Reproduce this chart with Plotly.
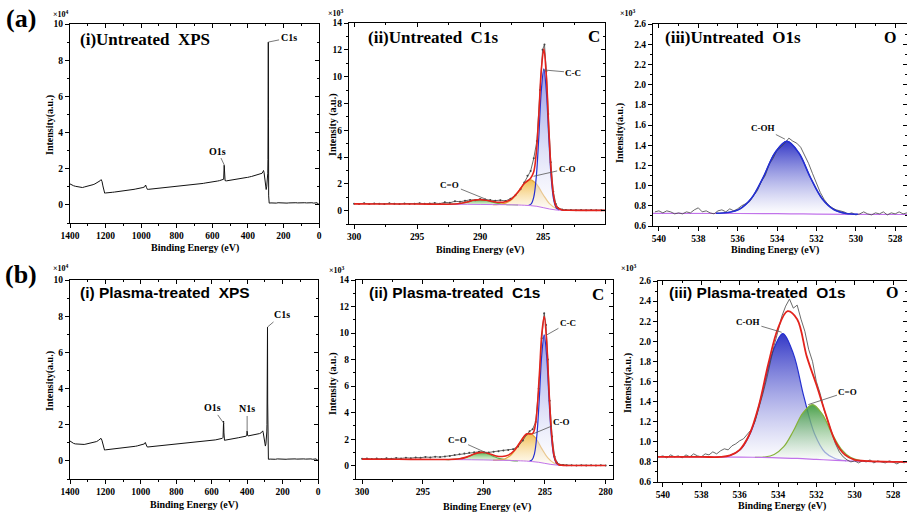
import plotly.graph_objects as go

W, H = 907, 517
SERIF = "Liberation Serif"
SANS = "Liberation Sans"

# ---------------- survey spectra (eV, counts x10^4) ----------------
survey_x = [1400, 1390, 1380, 1370, 1360, 1350, 1340, 1330, 1320, 1310,
            1300, 1290, 1280, 1270, 1260, 1250, 1240, 1230, 1225, 1220,
            1215, 1210, 1205, 1200, 1190, 1180, 1170, 1160, 1150, 1140,
            1130, 1120, 1110, 1100, 1090, 1080, 1070, 1060, 1050, 1040,
            1030, 1020, 1010, 1000, 990, 980, 975, 970, 965, 960,
            950, 940, 930, 920, 910, 900, 890, 880, 870, 860,
            850, 840, 830, 820, 810, 800, 790, 780, 770, 760,
            750, 740, 730, 720, 710, 700, 690, 680, 670, 660,
            650, 640, 630, 620, 610, 600, 590, 580, 570, 560,
            550, 540, 536, 533, 531, 528, 520, 510, 500, 490,
            480, 470, 460, 450, 440, 430, 420, 410, 405, 402,
            400, 398, 395, 390, 380, 370, 360, 350, 340, 330,
            320, 315, 312, 309, 306, 303, 300, 297, 294, 291,
            289, 288, 287, 286, 285, 284, 283, 282, 280, 270,
            260, 250, 240, 230, 220, 210, 200, 190, 180, 170,
            160, 150, 140, 130, 120, 110, 100, 90, 80, 70,
            60, 50, 40, 30, 20, 15, 10, 5, 0]
survey_untreated = [1.16, 1.10, 1.06, 1.03, 1.01, 0.99, 0.98, 0.96, 0.99, 1.01,
                    1.04, 1.07, 1.10, 1.12, 1.16, 1.21, 1.27, 1.34, 1.40, 1.30,
                    1.05, 0.80, 0.65, 0.66, 0.68, 0.67, 0.69, 0.70, 0.71, 0.72,
                    0.73, 0.74, 0.75, 0.76, 0.78, 0.79, 0.80, 0.82, 0.84, 0.86,
                    0.88, 0.89, 0.91, 0.93, 0.96, 1.00, 1.10, 0.97, 0.86, 0.86,
                    0.87, 0.88, 0.88, 0.89, 0.90, 0.91, 0.92, 0.93, 0.94, 0.96,
                    0.97, 0.97, 0.99, 1.00, 1.01, 1.02, 1.03, 1.04, 1.05, 1.06,
                    1.07, 1.08, 1.09, 1.10, 1.11, 1.12, 1.13, 1.15, 1.16, 1.18,
                    1.19, 1.21, 1.22, 1.24, 1.25, 1.27, 1.28, 1.30, 1.32, 1.34,
                    1.36, 1.38, 1.42, 2.20, 1.55, 1.34, 1.33, 1.35, 1.37, 1.39,
                    1.40, 1.42, 1.43, 1.45, 1.47, 1.48, 1.50, 1.51, 1.52, 1.52,
                    1.53, 1.53, 1.54, 1.55, 1.57, 1.60, 1.63, 1.66, 1.70, 1.72,
                    1.75, 1.84, 1.90, 1.80, 1.50, 1.10, 0.90, 0.85, 1.00, 1.30,
                    1.60, 1.75, 2.50, 6.60, 9.00, 4.80, 0.50, 0.12, 0.10, 0.11,
                    0.10, 0.11, 0.10, 0.12, 0.11, 0.10, 0.11, 0.12, 0.10, 0.11,
                    0.12, 0.11, 0.10, 0.12, 0.11, 0.12, 0.11, 0.10, 0.12, 0.11,
                    0.12, 0.11, 0.12, 0.10, 0.12, 0.13, 0.12, 0.05, 0.02]
survey_plasma = [1.10, 1.02, 0.97, 0.94, 0.93, 0.91, 0.90, 0.90, 0.91, 0.93,
                 0.95, 0.97, 0.99, 1.01, 1.04, 1.07, 1.13, 1.19, 1.25, 1.15,
                 0.95, 0.72, 0.60, 0.61, 0.62, 0.63, 0.63, 0.64, 0.65, 0.66,
                 0.67, 0.68, 0.69, 0.70, 0.71, 0.72, 0.74, 0.75, 0.77, 0.79,
                 0.81, 0.83, 0.85, 0.87, 0.90, 0.94, 1.02, 0.90, 0.78, 0.77,
                 0.78, 0.78, 0.79, 0.80, 0.80, 0.81, 0.82, 0.83, 0.84, 0.85,
                 0.86, 0.86, 0.87, 0.88, 0.89, 0.90, 0.91, 0.92, 0.93, 0.94,
                 0.95, 0.96, 0.97, 0.98, 0.99, 1.00, 1.01, 1.02, 1.04, 1.05,
                 1.06, 1.08, 1.09, 1.10, 1.12, 1.13, 1.15, 1.16, 1.18, 1.20,
                 1.22, 1.25, 1.30, 2.20, 1.55, 1.14, 1.15, 1.18, 1.20, 1.22,
                 1.23, 1.25, 1.26, 1.28, 1.30, 1.31, 1.33, 1.35, 1.37, 1.42,
                 1.65, 1.42, 1.38, 1.39, 1.41, 1.42, 1.44, 1.45, 1.48, 1.51,
                 1.56, 1.62, 1.66, 1.55, 1.30, 1.00, 0.86, 0.82, 0.95, 1.20,
                 1.60, 2.00, 3.10, 3.00, 7.40, 3.20, 0.50, 0.12, 0.09, 0.10,
                 0.09, 0.10, 0.09, 0.11, 0.10, 0.09, 0.10, 0.11, 0.09, 0.10,
                 0.11, 0.10, 0.09, 0.11, 0.10, 0.11, 0.10, 0.09, 0.11, 0.10,
                 0.11, 0.10, 0.11, 0.09, 0.11, 0.12, 0.11, 0.05, 0.02]

# ---------------- C1s (eV, counts x10^3) ----------------
c1s_raw_x = [300, 299.6, 299.2, 298.8, 298.4, 298, 297.6, 297.2, 296.8, 296.4,
             296, 295.6, 295.2, 294.8, 294.4, 294, 293.6, 293.2, 292.8, 292.4,
             292, 291.6, 291.2, 290.8, 290.4, 290, 289.6, 289.2, 288.8, 288.4,
             288, 287.6, 287.2, 286.8, 286.5, 286.25, 286, 285.75, 285.5, 285.25,
             285.05, 284.9, 284.75, 284.6, 284.4, 284.2, 284, 283.8, 283.5, 283.2,
             282.8, 282.4, 282, 281.6, 281.2, 280.8, 280.4, 280]
c1s_raw_untreated = [0.52, 0.50, 0.55, 0.49, 0.53, 0.51, 0.50, 0.54, 0.52, 0.49,
                     0.53, 0.50, 0.52, 0.55, 0.51, 0.53, 0.56, 0.52, 0.62, 0.58,
                     0.70, 0.66, 0.74, 0.80, 0.78, 0.86, 0.82, 0.80, 0.74, 0.78,
                     0.72, 0.88, 1.15, 1.60, 2.10, 2.60, 2.95, 3.90, 5.20, 9.00,
                     12.00, 12.40, 10.40, 7.20, 3.60, 1.40, 0.50, 0.18, 0.08, 0.05,
                     0.04, 0.03, 0.05, 0.02, 0.04, 0.03, 0.02, 0.03]
c1s_raw_plasma = [0.52, 0.55, 0.50, 0.54, 0.51, 0.56, 0.53, 0.58, 0.55, 0.60,
                  0.57, 0.62, 0.60, 0.66, 0.63, 0.68, 0.65, 0.70, 0.74, 0.80,
                  0.86, 0.92, 0.98, 1.02, 1.05, 1.02, 1.00, 1.06, 1.10, 1.15,
                  1.18, 1.25, 1.45, 1.90, 2.35, 2.60, 2.75, 3.30, 5.80, 9.60,
                  11.50, 10.60, 8.00, 4.90, 2.20, 0.70, 0.25, 0.10, 0.06, 0.04,
                  0.03, 0.02, 0.04, 0.02, 0.03, 0.02, 0.03, 0.02]

env_c1s_untreated_x = [300, 298, 296, 294, 293, 292, 291.5, 291, 290.5, 290, 289.5, 289, 288.5, 288,
                       287.5, 287, 286.5, 286, 285.75, 285.55, 285.35, 285.15, 284.95, 284.75,
                       284.55, 284.35, 284.15, 283.95, 283.5, 283, 282, 281, 280]
env_c1s_untreated = [0.50, 0.49, 0.49, 0.48, 0.48, 0.49, 0.55, 0.65, 0.77, 0.82, 0.77, 0.68, 0.62, 0.66,
                     0.88, 1.38, 2.02, 2.42, 2.90, 4.30, 7.10, 10.50, 12.05, 10.00,
                     6.00, 2.70, 0.95, 0.28, 0.05, 0.03, 0.02, 0.02, 0.02]
env_c1s_plasma_x = [300, 298, 296, 294, 293, 292, 291.5, 291, 290.5, 290, 289.5, 289, 288.5, 288,
                    287.5, 287, 286.5, 286, 285.75, 285.45, 285.25, 285.05, 284.85, 284.65,
                    284.45, 284.25, 284.05, 283.85, 283.5, 283, 282, 281, 280]
env_c1s_plasma = [0.50, 0.49, 0.48, 0.47, 0.47, 0.52, 0.63, 0.81, 0.97, 1.00, 0.88, 0.74, 0.70, 0.80,
                  1.15, 1.81, 2.39, 2.43, 3.24, 6.80, 9.90, 11.25, 9.40, 5.60,
                  2.50, 0.81, 0.25, 0.07, 0.03, 0.02, 0.02, 0.02, 0.02]

bg_c1s_x = [293, 292, 291, 290, 289, 288, 287, 286.5, 286, 285.5, 285, 284.5, 284, 283.5, 283]
bg_c1s_untreated = [0.48, 0.47, 0.47, 0.46, 0.45, 0.44, 0.42, 0.40, 0.37, 0.32, 0.22, 0.12, 0.05, 0.02, 0.01]
bg_c1s_plasma = [0.47, 0.46, 0.45, 0.44, 0.42, 0.40, 0.37, 0.35, 0.31, 0.26, 0.18, 0.10, 0.05, 0.02, 0.01]

# untreated C1s components
cc_u_x = [286.15, 285.95, 285.75, 285.55, 285.35, 285.15, 284.95, 284.75, 284.55, 284.35, 284.15, 283.95, 283.75]
cc_u = [0.40, 0.50, 1.00, 2.51, 5.47, 8.97, 10.57, 8.88, 5.31, 2.27, 0.71, 0.18, 0.05]
cc_u_base = [0.38, 0.37, 0.35, 0.33, 0.29, 0.26, 0.21, 0.17, 0.13, 0.09, 0.06, 0.045, 0.03]
co_u_x = [289.0, 288.5, 288.0, 287.5, 287.0, 286.5, 286.0, 285.5, 285.0, 284.5, 284.0, 283.5, 283.0]
co_u = [0.45, 0.47, 0.56, 0.83, 1.38, 2.02, 2.29, 1.94, 1.18, 0.52, 0.17, 0.045, 0.014]
co_u_base = [0.45, 0.445, 0.44, 0.43, 0.42, 0.40, 0.37, 0.32, 0.22, 0.12, 0.05, 0.02, 0.01]
cdo_u_x = [293, 292.5, 292, 291.5, 291, 290.5, 290, 289.5, 289, 288.5, 288, 287.5, 287]
cdo_u = [0.48, 0.48, 0.49, 0.55, 0.65, 0.77, 0.82, 0.76, 0.63, 0.52, 0.46, 0.435, 0.42]
cdo_u_base = [0.48, 0.475, 0.47, 0.47, 0.47, 0.465, 0.46, 0.455, 0.45, 0.445, 0.44, 0.43, 0.42]

# plasma-treated C1s components
cc_p_x = [286.25, 286.05, 285.85, 285.65, 285.45, 285.25, 285.05, 284.85, 284.65, 284.45, 284.25, 284.05, 283.85]
cc_p = [0.35, 0.44, 0.90, 2.30, 5.08, 8.35, 9.86, 8.29, 4.96, 2.12, 0.68, 0.18, 0.05]
cc_p_base = [0.33, 0.31, 0.29, 0.27, 0.24, 0.21, 0.18, 0.15, 0.12, 0.09, 0.07, 0.05, 0.035]
co_p_x = [289.25, 288.75, 288.25, 287.75, 287.25, 286.75, 286.25, 285.75, 285.25, 284.75, 284.25, 283.75, 283.25]
co_p = [0.42, 0.44, 0.53, 0.83, 1.44, 2.15, 2.46, 2.08, 1.29, 0.59, 0.20, 0.06, 0.02]
co_p_base = [0.42, 0.41, 0.40, 0.385, 0.37, 0.36, 0.33, 0.29, 0.22, 0.14, 0.07, 0.035, 0.015]
cdo_p_x = [293.2, 292.7, 292.2, 291.7, 291.2, 290.7, 290.2, 289.7, 289.2, 288.7, 288.2, 287.7, 287.2]
cdo_p = [0.47, 0.47, 0.50, 0.57, 0.73, 0.92, 1.00, 0.90, 0.70, 0.53, 0.44, 0.39, 0.37]
cdo_p_base = [0.47, 0.465, 0.46, 0.455, 0.45, 0.445, 0.44, 0.43, 0.42, 0.41, 0.40, 0.385, 0.37]

# ---------------- O1s (eV, counts x10^3) ----------------
o1s_raw_x = [540.2, 540.0, 539.8, 539.6, 539.4, 539.2, 539.0, 538.8, 538.6, 538.4,
             538.2, 538.0, 537.8, 537.6, 537.4, 537.2, 537.0, 536.8, 536.6, 536.4,
             536.2, 536.0, 535.8, 535.6, 535.4, 535.2, 535.0, 534.8, 534.6, 534.4,
             534.2, 534.0, 533.8, 533.6, 533.4, 533.2, 533.0, 532.8, 532.6, 532.4,
             532.2, 532.0, 531.8, 531.6, 531.4, 531.2, 531.0, 530.8, 530.6, 530.4,
             530.2, 530.0, 529.8, 529.6, 529.4, 529.2, 529.0, 528.8, 528.6, 528.4,
             528.2, 528.0, 527.8, 527.6, 527.4]
o1s_raw_untreated = [0.74, 0.75, 0.73, 0.75, 0.74, 0.72, 0.73, 0.72, 0.74, 0.73,
                     0.76, 0.78, 0.74, 0.75, 0.73, 0.72, 0.75, 0.76, 0.74, 0.77,
                     0.75, 0.77, 0.80, 0.82, 0.84, 0.90, 0.95, 1.04, 1.10, 1.21,
                     1.27, 1.35, 1.38, 1.42, 1.47, 1.44, 1.42, 1.38, 1.30, 1.22,
                     1.12, 1.02, 0.93, 0.86, 0.81, 0.78, 0.76, 0.75, 0.74, 0.72,
                     0.73, 0.71, 0.72, 0.74, 0.72, 0.71, 0.73, 0.72, 0.74, 0.71,
                     0.73, 0.72, 0.74, 0.72, 0.73]
o1s_raw_plasma = [0.85, 0.86, 0.84, 0.87, 0.85, 0.86, 0.84, 0.87, 0.85, 0.88,
                  0.86, 0.85, 0.88, 0.87, 0.90, 0.88, 0.91, 0.93, 0.92, 0.96,
                  0.98, 1.01, 1.03, 1.08, 1.12, 1.20, 1.33, 1.47, 1.62, 1.80,
                  1.96, 2.10, 2.25, 2.35, 2.42, 2.33, 2.36, 2.22, 2.10, 1.92,
                  1.80, 1.60, 1.48, 1.32, 1.20, 1.08, 0.98, 0.90, 0.85, 0.82,
                  0.80, 0.81, 0.79, 0.81, 0.80, 0.82, 0.79, 0.81, 0.80, 0.79,
                  0.81, 0.80, 0.78, 0.80, 0.79]

bg_o1s_untreated_x = [540.3, 536, 534, 533, 532, 530, 527.4]
bg_o1s_untreated = [0.725, 0.724, 0.722, 0.72, 0.718, 0.715, 0.714]
coh_u_x = [537.1, 536.5, 535.9, 535.3, 534.7, 534.1, 533.5, 532.9, 532.3, 531.7, 531.1, 530.5, 529.9]
coh_u = [0.725, 0.733, 0.768, 0.874, 1.082, 1.327, 1.44, 1.325, 1.078, 0.868, 0.761, 0.724, 0.716]
coh_u_base = [0.724, 0.724, 0.723, 0.723, 0.722, 0.721, 0.72, 0.719, 0.718, 0.717, 0.716, 0.715, 0.715]

bg_o1s_plasma_x = [540.26, 536, 535, 534, 533, 532, 531, 530, 529, 528, 527.27]
bg_o1s_plasma = [0.85, 0.848, 0.845, 0.84, 0.835, 0.825, 0.815, 0.808, 0.803, 0.80, 0.80]
coh_p_x = [537.05, 536.5, 535.95, 535.4, 534.85, 534.3, 533.75, 533.2, 532.65, 532.1, 531.55, 531.0, 530.45]
coh_p = [0.85, 0.864, 0.925, 1.105, 1.462, 1.882, 2.077, 1.877, 1.449, 1.083, 0.896, 0.831, 0.812]
coh_p_base = [0.848, 0.848, 0.847, 0.845, 0.842, 0.839, 0.837, 0.834, 0.829, 0.823, 0.818, 0.815, 0.81]
cdo_o_p_x = [535.2, 534.7, 534.2, 533.7, 533.2, 532.7, 532.2, 531.7, 531.2, 530.7, 530.2, 529.7, 529.2]
cdo_o_p = [0.846, 0.849, 0.874, 0.951, 1.107, 1.288, 1.37, 1.278, 1.089, 0.927, 0.843, 0.813, 0.805]
cdo_o_p_base = [0.845, 0.842, 0.84, 0.837, 0.834, 0.83, 0.825, 0.82, 0.816, 0.813, 0.809, 0.806, 0.804]
env_o1s_plasma_x = [540.26, 538, 537, 536.5, 536, 535.5, 535, 534.5, 534, 533.5, 533, 532.5, 532,
                    531.5, 531, 530.5, 530, 529.5, 529, 528, 527.27]
env_o1s_plasma = [0.85, 0.85, 0.85, 0.865, 0.92, 1.07, 1.36, 1.78, 2.13, 2.30, 2.22, 1.85, 1.57,
                  1.27, 1.00, 0.87, 0.82, 0.81, 0.805, 0.80, 0.80]

# ---------------- ticks ----------------
survey_xticks = [1400, 1200, 1000, 800, 600, 400, 200, 0]
survey_yticks = [0, 2, 4, 6, 8, 10]
c1s_xticks = [300, 295, 290, 285, 280]
c1s_yticks = [0, 2, 4, 6, 8, 10, 12, 14]
o1s_xticks = [540, 538, 536, 534, 532, 530, 528]
o1s_yticks = [0.6, 0.8, 1.0, 1.2, 1.4, 1.6, 1.8, 2.0, 2.2, 2.4, 2.6]

# ---------------- colours ----------------
RAW = "#444444"
RED = "#e3231c"
PURPLE = "#c173ea"
BLUE = "#2530d0"
ORANGE = "#e2a53c"
GREEN = "#5fb04a"
OLIVE = "#86b13a"

fig = go.Figure()


def xa(i):
    return "x" if i == 1 else f"x{i}"


def ya(i):
    return "y" if i == 1 else f"y{i}"


def add_line(i, x, y, color, width, shape="linear", mode="lines", msize=2):
    fig.add_trace(go.Scatter(x=x, y=y, xaxis=xa(i), yaxis=ya(i), mode=mode,
                             line=dict(color=color, width=width, shape=shape),
                             marker=dict(size=msize, color=color),
                             showlegend=False, hoverinfo="skip"))


def add_comp(i, x, base, y, lc, c_low, c_high):
    fig.add_trace(go.Scatter(x=x, y=base, xaxis=xa(i), yaxis=ya(i), mode="lines",
                             line=dict(width=0, color="rgba(0,0,0,0)"),
                             showlegend=False, hoverinfo="skip"))
    fig.add_trace(go.Scatter(x=x, y=y, xaxis=xa(i), yaxis=ya(i), mode="lines",
                             line=dict(color=lc, width=1.2, shape="spline"),
                             fill="tonexty",
                             fillgradient=dict(type="vertical",
                                               colorscale=[[0, c_low], [1, c_high]]),
                             showlegend=False, hoverinfo="skip"))


# (a)(i) survey untreated
add_line(1, survey_x, survey_untreated, "#111111", 1.0)
# (a)(ii) C1s untreated
add_comp(2, cdo_u_x, cdo_u_base, cdo_u, GREEN, "rgba(210,240,200,0.5)", "rgba(70,170,60,0.9)")
add_comp(2, co_u_x, co_u_base, co_u, ORANGE, "rgba(255,248,228,0.5)", "rgba(240,185,70,0.95)")
add_comp(2, cc_u_x, cc_u_base, cc_u, BLUE, "rgba(255,255,255,0.4)", "rgba(120,128,225,0.8)")
add_line(2, bg_c1s_x, bg_c1s_untreated, PURPLE, 1.0, "spline")
add_line(2, c1s_raw_x, c1s_raw_untreated, RAW, 0.8, "linear", "lines+markers", 2)
add_line(2, env_c1s_untreated_x, env_c1s_untreated, RED, 1.6, "spline")
# (a)(iii) O1s untreated
add_comp(3, coh_u_x, coh_u_base, coh_u, BLUE, "rgba(255,255,255,0.6)", "rgba(40,45,195,0.95)")
add_line(3, bg_o1s_untreated_x, bg_o1s_untreated, PURPLE, 1.2, "spline")
add_line(3, o1s_raw_x, o1s_raw_untreated, RAW, 0.8)
fig.add_trace(go.Scatter(x=coh_u_x, y=coh_u, xaxis="x3", yaxis="y3", mode="lines",
                         line=dict(color=BLUE, width=1.5, shape="spline"),
                         showlegend=False, hoverinfo="skip"))
# (b)(i) survey plasma
add_line(4, survey_x, survey_plasma, "#111111", 1.0)
# (b)(ii) C1s plasma
add_comp(5, cdo_p_x, cdo_p_base, cdo_p, GREEN, "rgba(210,240,200,0.5)", "rgba(70,170,60,0.9)")
add_comp(5, co_p_x, co_p_base, co_p, ORANGE, "rgba(255,248,228,0.5)", "rgba(240,185,70,0.95)")
add_comp(5, cc_p_x, cc_p_base, cc_p, BLUE, "rgba(255,255,255,0.4)", "rgba(120,128,225,0.8)")
add_line(5, bg_c1s_x, bg_c1s_plasma, PURPLE, 1.0, "spline")
add_line(5, c1s_raw_x, c1s_raw_plasma, RAW, 0.8, "linear", "lines+markers", 2)
add_line(5, env_c1s_plasma_x, env_c1s_plasma, RED, 1.6, "spline")
# (b)(iii) O1s plasma
add_comp(6, coh_p_x, coh_p_base, coh_p, BLUE, "rgba(255,255,255,0.6)", "rgba(40,45,195,0.95)")
add_comp(6, cdo_o_p_x, cdo_o_p_base, cdo_o_p, OLIVE, "rgba(255,255,255,0.6)", "rgba(55,150,55,0.9)")
add_line(6, bg_o1s_plasma_x, bg_o1s_plasma, PURPLE, 1.2, "spline")
add_line(6, o1s_raw_x, o1s_raw_plasma, RAW, 0.8)
add_line(6, env_o1s_plasma_x, env_o1s_plasma, RED, 1.8, "spline")

# empty traces so that the mirror (top/right) axes get drawn
for j in range(7, 13):
    fig.add_trace(go.Scatter(x=[None], y=[None], xaxis=f"x{j}", yaxis=f"y{j}",
                             showlegend=False, hoverinfo="skip"))


def px_x(p):
    return p / W


def px_y(p):
    return 1 - p / H


panels = [
    # i, xdom(px), ydom(px top,bottom), xrange, yrange, xticks, yticks, xminor, yminor, yfmt
    (1, (70, 319), (24, 223), [1400, 0], [-1, 10], survey_xticks, survey_yticks, 100, 1, None),
    (2, (349, 605), (23, 224), [300.4, 280.1], [-1, 14], c1s_xticks, c1s_yticks, 2.5, 1, None),
    (3, (653, 907), (24, 226), [540.3, 527.4], [0.6, 2.6], o1s_xticks, o1s_yticks, 1, 0.1, ".1f"),
    (4, (70, 318), (280, 479), [1400, 0], [-1, 10], survey_xticks, survey_yticks, 100, 1, None),
    (5, (356, 613), (280, 479), [300.5, 279.4], [-1, 14], c1s_xticks, c1s_yticks, 2.5, 1, None),
    (6, (658, 907), (281, 482), [540.26, 527.27], [0.6, 2.6], o1s_xticks, o1s_yticks, 1, 0.1, ".1f"),
]

tickfont = dict(family=SERIF, size=9.5, color="black", weight="bold")
layout = {}
for (i, xd, yd, xr, yr, xt, yt, xm, ym, yf) in panels:
    xdom = [px_x(xd[0]), px_x(xd[1])]
    ydom = [px_y(yd[1]), px_y(yd[0])]
    base = dict(showline=True, linecolor="black", linewidth=1, showgrid=False,
                zeroline=False, ticks="outside", ticklen=4, tickwidth=1,
                tickcolor="black", tickfont=tickfont, automargin=False)
    xk = "xaxis" if i == 1 else f"xaxis{i}"
    yk = "yaxis" if i == 1 else f"yaxis{i}"
    layout[xk] = dict(domain=xdom, range=xr, anchor=ya(i), tickvals=xt,
                      minor=dict(dtick=xm, tick0=0, ticks="outside", ticklen=2, tickcolor="black"),
                      **base)
    yax = dict(domain=ydom, range=yr, anchor=xa(i), tickvals=yt,
               minor=dict(dtick=ym, tick0=0, ticks="outside", ticklen=2, tickcolor="black"),
               **base)
    if yf:
        yax["tickformat"] = yf
    layout[yk] = yax
    j = i + 6
    mir = dict(showline=True, linecolor="black", linewidth=1, showgrid=False,
               zeroline=False, ticks="inside", ticklen=4, tickwidth=1,
               tickcolor="black", showticklabels=False, automargin=False)
    layout[f"xaxis{j}"] = dict(overlaying=xa(i), side="top", anchor=f"y{j}", range=xr,
                               domain=xdom, tickvals=xt,
                               minor=dict(dtick=xm, tick0=0, ticks="inside", ticklen=2, tickcolor="black"),
                               **mir)
    layout[f"yaxis{j}"] = dict(overlaying=ya(i), side="right", anchor=f"x{j}", range=yr,
                               domain=ydom, tickvals=yt,
                               minor=dict(dtick=ym, tick0=0, ticks="inside", ticklen=2, tickcolor="black"),
                               **mir)

fig.update_layout(**layout)

ann = []


def paper_text(text, x, y, size, family=SERIF, angle=0):
    ann.append(dict(text=text, x=px_x(x), y=px_y(y), xref="paper", yref="paper",
                    showarrow=False, xanchor="center", yanchor="middle", textangle=angle,
                    font=dict(family=family, size=size, color="black", weight="bold")))


# panel letters
paper_text("(a)", 21, 18, 26)
paper_text("(b)", 21, 274, 26)
# panel titles
paper_text("(i)Untreated  XPS", 145, 40, 17)
paper_text("(ii)Untreated  C1s", 433, 37, 17)
paper_text("(iii)Untreated  O1s", 733, 37, 17)
paper_text("(i) Plasma-treated  XPS", 165, 292, 15.5, SANS)
paper_text("(ii) Plasma-treated  C1s", 454, 292, 15.5, SANS)
paper_text("(iii) Plasma-treated  O1s", 757, 292, 15.5, SANS)
# axis titles
for (x, y) in [(195, 248), (480, 250), (775, 250), (194, 505), (487, 507), (782, 506)]:
    paper_text("Binding Energy (eV)", x, y, 10)
for (t, x, y) in [("Intensity(a.u.)", 50, 125), ("Intensity (a.u.)", 333, 125),
                  ("Intensity(a.u.)", 620, 133), ("Intensity(a.u.)", 50, 381),
                  ("Intensity (a.u.)", 333, 384), ("Intensity(a.u.)", 628, 383)]:
    paper_text(t, x, y, 10, angle=-90)
# multipliers
for (t, x, y) in [("×10<sup>4</sup>", 61, 14), ("×10<sup>3</sup>", 336, 13),
                  ("×10<sup>3</sup>", 628, 13), ("×10<sup>4</sup>", 61, 268),
                  ("×10<sup>3</sup>", 337, 270), ("×10<sup>3</sup>", 629, 268)]:
    paper_text(t, x, y, 8)


def data_label(i, text, hx, hy, tx, ty, size=9):
    ann.append(dict(text=text, x=hx, y=hy, ax=tx, ay=ty, xref=xa(i), yref=ya(i),
                    axref=xa(i), ayref=ya(i), showarrow=True, arrowhead=0,
                    arrowwidth=0.8, arrowcolor="#555555", standoff=0,
                    font=dict(family=SERIF, size=size, color="black", weight="bold")))


def data_text(i, text, x, y, size):
    ann.append(dict(text=text, x=x, y=y, xref=xa(i), yref=ya(i), showarrow=False,
                    xanchor="center", yanchor="middle",
                    font=dict(family=SERIF, size=size, color="black", weight="bold")))


data_label(1, "C1s", 285, 9.0, 171, 9.23, 10)
data_label(1, "O1s", 530, 2.15, 570, 2.98, 10)
data_label(4, "C1s", 285, 7.4, 205, 8.07, 10)
data_label(4, "O1s", 530, 2.05, 594, 2.93, 10)
data_label(4, "N1s", 400, 1.6, 400, 2.87, 10)
data_text(2, "C", 281.0, 12.99, 17)
data_label(2, "C-C", 285.0, 10.5, 282.6, 10.3)
data_label(2, "C-O", 285.77, 2.56, 283.1, 3.13)
data_label(2, "C=O", 289.47, 0.82, 292.4, 1.94)
data_text(5, "C", 280.63, 12.87, 17)
data_label(5, "C-C", 284.84, 9.86, 283.1, 10.76)
data_label(5, "C-O", 285.94, 2.41, 283.6, 3.31)
data_label(5, "C=O", 289.77, 0.96, 292.2, 1.96)
data_text(3, "O", 528.26, 2.47, 16)
data_label(3, "C-OH", 533.6, 1.46, 534.71, 1.57)
data_text(6, "O", 528.05, 2.49, 16)
data_label(6, "C-OH", 533.81, 2.09, 535.57, 2.19)
data_label(6, "C=O", 532.42, 1.37, 530.35, 1.50)

fig.update_layout(annotations=ann, width=W, height=H,
                  margin=dict(l=0, r=0, t=0, b=0, pad=0, autoexpand=False),
                  paper_bgcolor="white", plot_bgcolor="white",
                  showlegend=False)

fig.write_html("out.html",
               config={"displayModeBar": False, "staticPlot": True},
               post_script="document.body.style.margin='0px';document.body.style.overflow='hidden';")
